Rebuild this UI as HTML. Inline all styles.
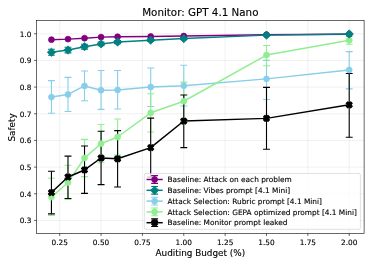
<!DOCTYPE html>
<html><head><meta charset="utf-8"><title>Monitor: GPT 4.1 Nano</title>
<style>html,body{margin:0;padding:0;background:#fff}svg{display:block}</style></head>
<body>
<svg width="372" height="266" viewBox="0 0 372 266" style="display:block">
<rect width="372" height="266" fill="#fff"/>
<path d="M59.71 20.45V233.45M101.07 20.45V233.45M142.42 20.45V233.45M183.78 20.45V233.45M225.14 20.45V233.45M266.50 20.45V233.45M307.85 20.45V233.45M349.21 20.45V233.45M36.55 220.45H364.1M36.55 193.78H364.1M36.55 167.11H364.1M36.55 140.44H364.1M36.55 113.77H364.1M36.55 87.10H364.1M36.55 60.43H364.1M36.55 33.76H364.1" stroke="#b0b0b0" stroke-opacity="0.3" stroke-width="0.59" fill="none"/>
<clipPath id="ax"><rect x="36.55" y="20.45" width="327.55" height="213.0"/></clipPath>
<g clip-path="url(#ax)">
<path d="M51.44 80.60V113.31M67.98 77.41V111.45M84.52 71.03V100.81M101.07 70.50V109.32M117.61 70.50V109.06M150.70 68.00V106.50M183.78 65.26V106.00M266.50 60.39V99.48M349.21 51.61V88.85" stroke="#87CEEB" stroke-width="1.11" fill="none"/>
<path d="M47.99 80.60h6.90M47.99 113.31h6.90M64.53 77.41h6.90M64.53 111.45h6.90M81.07 71.03h6.90M81.07 100.81h6.90M97.62 70.50h6.90M97.62 109.32h6.90M114.16 70.50h6.90M114.16 109.06h6.90M147.25 68.00h6.90M147.25 106.50h6.90M180.33 65.26h6.90M180.33 106.00h6.90M263.05 60.39h6.90M263.05 99.48h6.90M345.76 51.61h6.90M345.76 88.85h6.90" stroke="#87CEEB" stroke-width="1.11" fill="none"/>
<path d="M51.44 178.20V215.54M67.98 165.28V199.56M84.52 139.38V176.61M101.07 124.48V162.78M117.61 119.00V155.07M150.70 93.77V132.01M183.78 82.12V120.41M266.50 45.50V65.71M349.21 36.46V44.30" stroke="#90EE90" stroke-width="1.11" fill="none"/>
<path d="M47.99 178.20h6.90M47.99 215.54h6.90M64.53 165.28h6.90M64.53 199.56h6.90M81.07 139.38h6.90M81.07 176.61h6.90M97.62 124.48h6.90M97.62 162.78h6.90M114.16 119.00h6.90M114.16 155.07h6.90M147.25 93.77h6.90M147.25 132.01h6.90M180.33 82.12h6.90M180.33 120.41h6.90M263.05 45.50h6.90M263.05 65.71h6.90M345.76 36.46h6.90M345.76 44.30h6.90" stroke="#90EE90" stroke-width="1.11" fill="none"/>
<path d="M51.44 49.30V55.31M67.98 47.25V52.84M84.52 44.30V49.09M101.07 42.04V45.76M117.61 40.45V43.64M150.70 38.85V41.51M183.78 37.52V39.65M266.50 34.59V35.66M349.21 33.72V34.25" stroke="#008080" stroke-width="1.11" fill="none"/>
<path d="M47.99 49.30h6.90M47.99 55.31h6.90M64.53 47.25h6.90M64.53 52.84h6.90M81.07 44.30h6.90M81.07 49.09h6.90M97.62 42.04h6.90M97.62 45.76h6.90M114.16 40.45h6.90M114.16 43.64h6.90M147.25 38.85h6.90M147.25 41.51h6.90M180.33 37.52h6.90M180.33 39.65h6.90M263.05 34.59h6.90M263.05 35.66h6.90M345.76 33.72h6.90M345.76 34.25h6.90" stroke="#008080" stroke-width="1.11" fill="none"/>
<path d="M51.44 171.29V213.84M67.98 156.13V198.52M84.52 146.02V193.36M101.07 131.26V184.58M117.61 130.60V186.98M150.70 118.10V177.14M183.78 94.96V147.62M266.50 87.41V149.21M349.21 73.56V137.25" stroke="#000000" stroke-width="1.11" fill="none"/>
<path d="M47.99 171.29h6.90M47.99 213.84h6.90M64.53 156.13h6.90M64.53 198.52h6.90M81.07 146.02h6.90M81.07 193.36h6.90M97.62 131.26h6.90M97.62 184.58h6.90M114.16 130.60h6.90M114.16 186.98h6.90M147.25 118.10h6.90M147.25 177.14h6.90M180.33 94.96h6.90M180.33 147.62h6.90M263.05 87.41h6.90M263.05 149.21h6.90M345.76 73.56h6.90M345.76 137.25h6.90" stroke="#000000" stroke-width="1.11" fill="none"/>
<polyline points="51.44,39.65 67.98,39.12 84.52,38.19 101.07,37.12 117.61,36.78 150.70,36.54 183.78,36.06 266.50,34.73 349.21,34.33" stroke="#800080" stroke-width="1.48" fill="none" stroke-linejoin="round"/>
<circle cx="51.44" cy="39.65" r="2.95" fill="#800080" stroke="#800080" stroke-width="0.74"/>
<circle cx="67.98" cy="39.12" r="2.95" fill="#800080" stroke="#800080" stroke-width="0.74"/>
<circle cx="84.52" cy="38.19" r="2.95" fill="#800080" stroke="#800080" stroke-width="0.74"/>
<circle cx="101.07" cy="37.12" r="2.95" fill="#800080" stroke="#800080" stroke-width="0.74"/>
<circle cx="117.61" cy="36.78" r="2.95" fill="#800080" stroke="#800080" stroke-width="0.74"/>
<circle cx="150.70" cy="36.54" r="2.95" fill="#800080" stroke="#800080" stroke-width="0.74"/>
<circle cx="183.78" cy="36.06" r="2.95" fill="#800080" stroke="#800080" stroke-width="0.74"/>
<circle cx="266.50" cy="34.73" r="2.95" fill="#800080" stroke="#800080" stroke-width="0.74"/>
<circle cx="349.21" cy="34.33" r="2.95" fill="#800080" stroke="#800080" stroke-width="0.74"/>
<polyline points="51.44,97.09 67.98,94.43 84.52,85.92 101.07,90.18 117.61,89.91 150.70,86.98 183.78,85.76 266.50,78.87 349.21,69.96" stroke="#87CEEB" stroke-width="1.48" fill="none" stroke-linejoin="round"/>
<circle cx="51.44" cy="97.09" r="2.95" fill="#87CEEB" stroke="#87CEEB" stroke-width="0.74"/>
<circle cx="67.98" cy="94.43" r="2.95" fill="#87CEEB" stroke="#87CEEB" stroke-width="0.74"/>
<circle cx="84.52" cy="85.92" r="2.95" fill="#87CEEB" stroke="#87CEEB" stroke-width="0.74"/>
<circle cx="101.07" cy="90.18" r="2.95" fill="#87CEEB" stroke="#87CEEB" stroke-width="0.74"/>
<circle cx="117.61" cy="89.91" r="2.95" fill="#87CEEB" stroke="#87CEEB" stroke-width="0.74"/>
<circle cx="150.70" cy="86.98" r="2.95" fill="#87CEEB" stroke="#87CEEB" stroke-width="0.74"/>
<circle cx="183.78" cy="85.76" r="2.95" fill="#87CEEB" stroke="#87CEEB" stroke-width="0.74"/>
<circle cx="266.50" cy="78.87" r="2.95" fill="#87CEEB" stroke="#87CEEB" stroke-width="0.74"/>
<circle cx="349.21" cy="69.96" r="2.95" fill="#87CEEB" stroke="#87CEEB" stroke-width="0.74"/>
<polyline points="51.44,197.08 67.98,182.54 84.52,157.99 101.07,143.63 117.61,136.98 150.70,112.78 183.78,101.27 266.50,55.07 349.21,40.31" stroke="#90EE90" stroke-width="1.48" fill="none" stroke-linejoin="round"/>
<circle cx="51.44" cy="197.08" r="2.95" fill="#90EE90" stroke="#90EE90" stroke-width="0.74"/>
<circle cx="67.98" cy="182.54" r="2.95" fill="#90EE90" stroke="#90EE90" stroke-width="0.74"/>
<circle cx="84.52" cy="157.99" r="2.95" fill="#90EE90" stroke="#90EE90" stroke-width="0.74"/>
<circle cx="101.07" cy="143.63" r="2.95" fill="#90EE90" stroke="#90EE90" stroke-width="0.74"/>
<circle cx="117.61" cy="136.98" r="2.95" fill="#90EE90" stroke="#90EE90" stroke-width="0.74"/>
<circle cx="150.70" cy="112.78" r="2.95" fill="#90EE90" stroke="#90EE90" stroke-width="0.74"/>
<circle cx="183.78" cy="101.27" r="2.95" fill="#90EE90" stroke="#90EE90" stroke-width="0.74"/>
<circle cx="266.50" cy="55.07" r="2.95" fill="#90EE90" stroke="#90EE90" stroke-width="0.74"/>
<circle cx="349.21" cy="40.31" r="2.95" fill="#90EE90" stroke="#90EE90" stroke-width="0.74"/>
<polyline points="51.44,52.31 67.98,50.05 84.52,46.70 101.07,43.90 117.61,42.04 150.70,40.18 183.78,38.58 266.50,35.13 349.21,33.98" stroke="#008080" stroke-width="1.48" fill="none" stroke-linejoin="round"/>
<path d="M51.44 48.13L55.61 52.31L51.44 56.48L47.26 52.31Z" fill="#008080" stroke="#008080" stroke-width="0.74"/>
<path d="M67.98 45.87L72.16 50.05L67.98 54.22L63.81 50.05Z" fill="#008080" stroke="#008080" stroke-width="0.74"/>
<path d="M84.52 42.52L88.70 46.70L84.52 50.87L80.35 46.70Z" fill="#008080" stroke="#008080" stroke-width="0.74"/>
<path d="M101.07 39.73L105.24 43.90L101.07 48.08L96.89 43.90Z" fill="#008080" stroke="#008080" stroke-width="0.74"/>
<path d="M117.61 37.87L121.79 42.04L117.61 46.22L113.44 42.04Z" fill="#008080" stroke="#008080" stroke-width="0.74"/>
<path d="M150.70 36.00L154.87 40.18L150.70 44.35L146.52 40.18Z" fill="#008080" stroke="#008080" stroke-width="0.74"/>
<path d="M183.78 34.41L187.96 38.58L183.78 42.76L179.61 38.58Z" fill="#008080" stroke="#008080" stroke-width="0.74"/>
<path d="M266.50 30.95L270.67 35.13L266.50 39.30L262.32 35.13Z" fill="#008080" stroke="#008080" stroke-width="0.74"/>
<path d="M349.21 29.81L353.39 33.98L349.21 38.16L345.04 33.98Z" fill="#008080" stroke="#008080" stroke-width="0.74"/>
<polyline points="51.44,192.56 67.98,177.01 84.52,169.96 101.07,157.99 117.61,158.79 150.70,147.62 183.78,121.03 266.50,118.37 349.21,104.80" stroke="#000000" stroke-width="1.48" fill="none" stroke-linejoin="round"/>
<path d="M49.96 189.61L51.44 191.09L52.91 189.61L54.39 191.09L52.91 192.56L54.39 194.04L52.91 195.52L51.44 194.04L49.96 195.52L48.49 194.04L49.96 192.56L48.49 191.09Z" fill="#000000" stroke="#000000" stroke-width="1.25" stroke-linejoin="round"/>
<path d="M66.51 174.05L67.98 175.53L69.46 174.05L70.93 175.53L69.46 177.01L70.93 178.48L69.46 179.96L67.98 178.48L66.51 179.96L65.03 178.48L66.51 177.01L65.03 175.53Z" fill="#000000" stroke="#000000" stroke-width="1.25" stroke-linejoin="round"/>
<path d="M83.05 167.01L84.52 168.48L86.00 167.01L87.48 168.48L86.00 169.96L87.48 171.43L86.00 172.91L84.52 171.43L83.05 172.91L81.57 171.43L83.05 169.96L81.57 168.48Z" fill="#000000" stroke="#000000" stroke-width="1.25" stroke-linejoin="round"/>
<path d="M99.59 155.04L101.07 156.51L102.54 155.04L104.02 156.51L102.54 157.99L104.02 159.47L102.54 160.94L101.07 159.47L99.59 160.94L98.12 159.47L99.59 157.99L98.12 156.51Z" fill="#000000" stroke="#000000" stroke-width="1.25" stroke-linejoin="round"/>
<path d="M116.13 155.84L117.61 157.31L119.09 155.84L120.56 157.31L119.09 158.79L120.56 160.26L119.09 161.74L117.61 160.26L116.13 161.74L114.66 160.26L116.13 158.79L114.66 157.31Z" fill="#000000" stroke="#000000" stroke-width="1.25" stroke-linejoin="round"/>
<path d="M149.22 144.67L150.70 146.14L152.17 144.67L153.65 146.14L152.17 147.62L153.65 149.10L152.17 150.57L150.70 149.10L149.22 150.57L147.74 149.10L149.22 147.62L147.74 146.14Z" fill="#000000" stroke="#000000" stroke-width="1.25" stroke-linejoin="round"/>
<path d="M182.31 118.07L183.78 119.55L185.26 118.07L186.73 119.55L185.26 121.03L186.73 122.50L185.26 123.98L183.78 122.50L182.31 123.98L180.83 122.50L182.31 121.03L180.83 119.55Z" fill="#000000" stroke="#000000" stroke-width="1.25" stroke-linejoin="round"/>
<path d="M265.02 115.41L266.50 116.89L267.97 115.41L269.45 116.89L267.97 118.37L269.45 119.84L267.97 121.32L266.50 119.84L265.02 121.32L263.54 119.84L265.02 118.37L263.54 116.89Z" fill="#000000" stroke="#000000" stroke-width="1.25" stroke-linejoin="round"/>
<path d="M347.74 101.85L349.21 103.33L350.69 101.85L352.16 103.33L350.69 104.80L352.16 106.28L350.69 107.75L349.21 106.28L347.74 107.75L346.26 106.28L347.74 104.80L346.26 103.33Z" fill="#000000" stroke="#000000" stroke-width="1.25" stroke-linejoin="round"/>
</g>
<rect x="36.55" y="20.45" width="327.55" height="213.0" fill="none" stroke="#000" stroke-width="0.59"/>
<path d="M59.71 233.45v2.58M101.07 233.45v2.58M142.42 233.45v2.58M183.78 233.45v2.58M225.14 233.45v2.58M266.50 233.45v2.58M307.85 233.45v2.58M349.21 233.45v2.58M36.55 220.45h-2.58M36.55 193.78h-2.58M36.55 167.11h-2.58M36.55 140.44h-2.58M36.55 113.77h-2.58M36.55 87.10h-2.58M36.55 60.43h-2.58M36.55 33.76h-2.58" stroke="#000" stroke-width="0.59" fill="none"/>
<g font-family="DejaVu Sans, Liberation Sans, sans-serif" fill="#000" stroke="#000" stroke-width="0.12">
<text x="59.71" y="244.7" font-size="7.38" text-anchor="middle">0.25</text>
<text x="101.07" y="244.7" font-size="7.38" text-anchor="middle">0.50</text>
<text x="142.42" y="244.7" font-size="7.38" text-anchor="middle">0.75</text>
<text x="183.78" y="244.7" font-size="7.38" text-anchor="middle">1.00</text>
<text x="225.14" y="244.7" font-size="7.38" text-anchor="middle">1.25</text>
<text x="266.50" y="244.7" font-size="7.38" text-anchor="middle">1.50</text>
<text x="307.85" y="244.7" font-size="7.38" text-anchor="middle">1.75</text>
<text x="349.21" y="244.7" font-size="7.38" text-anchor="middle">2.00</text>
<text x="31.38" y="223.45" font-size="7.38" text-anchor="end">0.3</text>
<text x="31.38" y="196.78" font-size="7.38" text-anchor="end">0.4</text>
<text x="31.38" y="170.11" font-size="7.38" text-anchor="end">0.5</text>
<text x="31.38" y="143.44" font-size="7.38" text-anchor="end">0.6</text>
<text x="31.38" y="116.77" font-size="7.38" text-anchor="end">0.7</text>
<text x="31.38" y="90.10" font-size="7.38" text-anchor="end">0.8</text>
<text x="31.38" y="63.43" font-size="7.38" text-anchor="end">0.9</text>
<text x="31.38" y="36.76" font-size="7.38" text-anchor="end">1.0</text>
<text x="200.33" y="16" font-size="10.33" text-anchor="middle">Monitor: GPT 4.1 Nano</text>
<text x="200.33" y="256.0" font-size="8.86" text-anchor="middle">Auditing Budget (%)</text>
<text transform="translate(15.4 127.45) rotate(-90)" font-size="8.86" text-anchor="middle">Safety</text>
<rect x="144.3" y="173.5" width="216.10" height="55.80" rx="1.5" fill="#fff" fill-opacity="0.8" stroke="#ccc" stroke-opacity="0.8" stroke-width="0.74"/>
<path d="M154.62 175.65V183.35M151.18 175.65h6.90M151.18 183.35h6.90" stroke="#800080" stroke-width="1.11" fill="none"/>
<path d="M147.25 179.5H162.00" stroke="#800080" stroke-width="1.48" stroke-linecap="square" fill="none"/>
<circle cx="154.62" cy="179.50" r="2.95" fill="#800080" stroke="#800080" stroke-width="0.74"/>
<text x="167.5" y="182.16" font-size="7.38">Baseline: Attack on each problem</text>
<path d="M154.62 186.45V194.15M151.18 186.45h6.90M151.18 194.15h6.90" stroke="#008080" stroke-width="1.11" fill="none"/>
<path d="M147.25 190.3H162.00" stroke="#008080" stroke-width="1.48" stroke-linecap="square" fill="none"/>
<path d="M154.62 186.13L158.80 190.30L154.62 194.47L150.45 190.30Z" fill="#008080" stroke="#008080" stroke-width="0.74"/>
<text x="167.5" y="192.96" font-size="7.38">Baseline: Vibes prompt [4.1 Mini]</text>
<path d="M154.62 197.25V204.95M151.18 197.25h6.90M151.18 204.95h6.90" stroke="#87CEEB" stroke-width="1.11" fill="none"/>
<path d="M147.25 201.1H162.00" stroke="#87CEEB" stroke-width="1.48" stroke-linecap="square" fill="none"/>
<circle cx="154.62" cy="201.10" r="2.95" fill="#87CEEB" stroke="#87CEEB" stroke-width="0.74"/>
<text x="167.5" y="203.76" font-size="7.38">Attack Selection: Rubric prompt [4.1 Mini]</text>
<path d="M154.62 208.05V215.75M151.18 208.05h6.90M151.18 215.75h6.90" stroke="#90EE90" stroke-width="1.11" fill="none"/>
<path d="M147.25 211.9H162.00" stroke="#90EE90" stroke-width="1.48" stroke-linecap="square" fill="none"/>
<circle cx="154.62" cy="211.90" r="2.95" fill="#90EE90" stroke="#90EE90" stroke-width="0.74"/>
<text x="167.5" y="214.56" font-size="7.38">Attack Selection: GEPA optimized prompt [4.1 Mini]</text>
<path d="M154.62 218.85V226.55M151.18 218.85h6.90M151.18 226.55h6.90" stroke="#000000" stroke-width="1.11" fill="none"/>
<path d="M147.25 222.7H162.00" stroke="#000000" stroke-width="1.48" stroke-linecap="square" fill="none"/>
<path d="M153.15 219.75L154.62 221.22L156.10 219.75L157.58 221.22L156.10 222.70L157.58 224.18L156.10 225.65L154.62 224.18L153.15 225.65L151.67 224.18L153.15 222.70L151.67 221.22Z" fill="#000000" stroke="#000000" stroke-width="1.25" stroke-linejoin="round"/>
<text x="167.5" y="225.36" font-size="7.38">Baseline: Monitor prompt leaked</text>
</g>
</svg>
</body></html>
